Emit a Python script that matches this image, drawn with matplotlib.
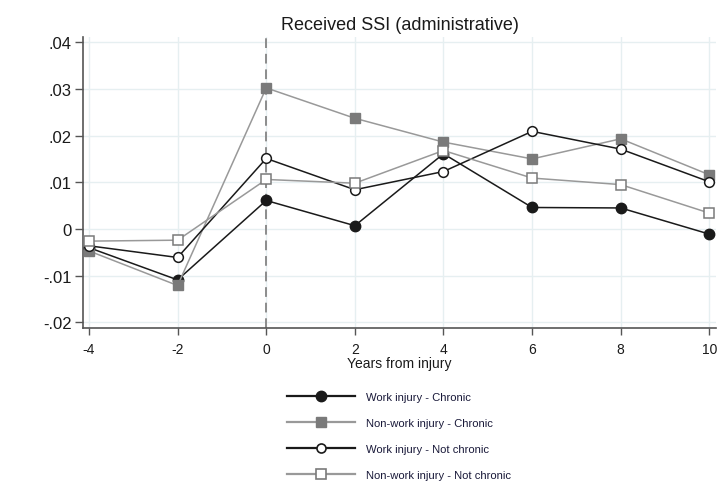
import matplotlib
matplotlib.use("Agg")
import matplotlib.pyplot as plt
from matplotlib.lines import Line2D

plt.rcParams['font.family'] = ['Liberation Sans', 'DejaVu Sans']

years = [-4, -2, 0, 2, 4, 6, 8, 10]
work_chronic = [-0.0040, -0.0109, 0.0061, 0.0007, 0.0161, 0.0046, 0.0045, -0.0011]
nonwork_chronic = [-0.0047, -0.0121, 0.0302, 0.0237, 0.0186, 0.0150, 0.0193, 0.0116]
work_notchronic = [-0.0036, -0.0061, 0.0151, 0.0084, 0.0123, 0.0209, 0.0171, 0.0101]
nonwork_notchronic = [-0.0026, -0.0024, 0.0106, 0.0098, 0.0168, 0.0109, 0.0095, 0.0034]

labels = ["Work injury - Chronic", "Non-work injury - Chronic",
          "Work injury - Not chronic", "Non-work injury - Not chronic"]
yticks = [-0.02, -0.01, 0, 0.01, 0.02, 0.03, 0.04]
yticklabels = ["-.02", "-.01", "0", ".01", ".02", ".03", ".04"]
xticks = [-4, -2, 0, 2, 4, 6, 8, 10]

fig = plt.figure(figsize=(7.18, 4.85), dpi=100)
ax = fig.add_axes([83/718, 1-329/485, (716-83)/718, (329-38)/485])

dark = '#1a1a1a'
grayl = '#999999'
graym = '#7a7a7a'

ax.axvline(0, color='#8c8c8c', lw=1.4, ls=(0, (5, 3)), zorder=1)

h1, = ax.plot(years, work_chronic, color=dark, lw=1.1, marker='o', ms=7.5,
              mfc=dark, mec=dark, zorder=3)
h2, = ax.plot(years, nonwork_chronic, color=grayl, lw=1.1, marker='s', ms=6.5,
              mfc=graym, mec=graym, zorder=3)
h3, = ax.plot(years, work_notchronic, color=dark, lw=1.1, marker='o', ms=7,
              mfc='white', mec=dark, mew=1.1, zorder=4)
h4, = ax.plot(years, nonwork_notchronic, color=grayl, lw=1.1, marker='s', ms=6.5,
              mfc='white', mec=graym, mew=1.1, zorder=4)

ax.set_xlim(-4.135, 10.15)
ax.set_ylim(-0.0212, 0.0411)
ax.set_xticks(xticks)
ax.set_xticklabels([str(x) for x in xticks])
ax.set_yticks(yticks)
ax.set_yticklabels(yticklabels)
ax.grid(True, color='#e6eff1', lw=1.0, zorder=0)
ax.set_axisbelow(True)

for s in ['top', 'right']:
    ax.spines[s].set_visible(False)
for s in ['left', 'bottom']:
    ax.spines[s].set_color('#555555')
    ax.spines[s].set_linewidth(1.2)

ax.tick_params(axis='y', labelsize=12, length=6, width=1, color='#555555',
               labelcolor='#1a1a1a', pad=2)
ax.tick_params(axis='x', labelsize=10, length=5, width=1, color='#555555',
               labelcolor='#1a1a1a', pad=5)
ax.set_xlabel("Years from injury", fontsize=10, color='#1a1a1a', labelpad=0)
ax.set_title("Received SSI (administrative)", fontsize=13, color='#1a1a1a', pad=6)

leg_handles = [
    Line2D([], [], color=dark, lw=1.6, marker='o', ms=7.5, mfc=dark, mec=dark),
    Line2D([], [], color=grayl, lw=1.6, marker='s', ms=6.5, mfc=graym, mec=graym),
    Line2D([], [], color=dark, lw=1.6, marker='o', ms=6.5, mfc='white', mec=dark, mew=1.2),
    Line2D([], [], color=grayl, lw=1.6, marker='s', ms=6.5, mfc='white', mec=graym, mew=1.2),
]
fig.legend(leg_handles, labels, loc='upper left', bbox_to_anchor=(287/718, 1-393/485),
           frameon=False, fontsize=8.1, handlelength=6.0, handletextpad=1.0,
           labelspacing=1.43, borderpad=0, borderaxespad=0, labelcolor='#1a1a3a')

fig.savefig("out.png", dpi=100, facecolor='white')
